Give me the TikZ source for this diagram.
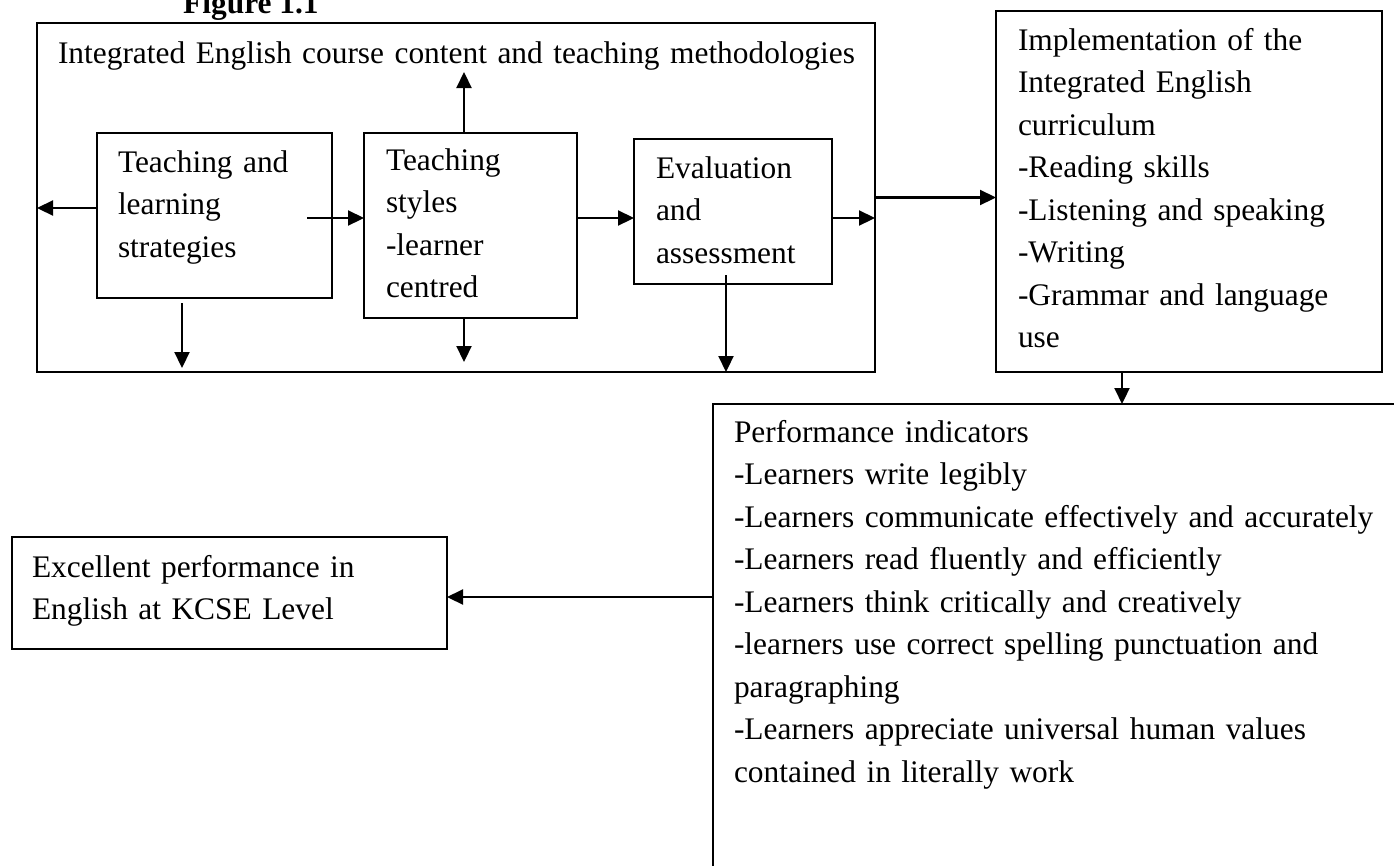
\documentclass[tikz,border=0pt]{standalone}
\usepackage{fontspec}
\setmainfont{Liberation Serif}
\usetikzlibrary{arrows.meta}
\begin{document}
\begin{tikzpicture}[x=1pt,y=-1pt,
  box/.style={draw, line width=1.6pt, rectangle, inner sep=0pt, outer sep=0pt, anchor=north west},
  txt/.style={anchor=base west, inner sep=0pt, outer sep=0pt, align=left, text width=1000pt,
    font=\fontsize{31.4}{42.5}\selectfont},
  arr/.style={line width=2.2pt, -{Triangle[length=16pt,width=15pt]}}]
\useasboundingbox (0,0) rectangle (1394,865);
\clip (0,0) rectangle (1394,865);
% title
\node[anchor=base west, inner sep=0pt, font=\fontsize{31.4}{38}\selectfont\bfseries] (title) at (183,13) {Figure 1.1};
% boxes
\node[box, minimum width=838pt, minimum height=349pt] (outer) at (37,23) {};
\node[box, minimum width=235pt, minimum height=165pt] (A) at (97,133) {};
\node[box, minimum width=213pt, minimum height=185pt] (B) at (364,133) {};
\node[box, minimum width=198pt, minimum height=145pt] (C) at (634,139) {};
\node[box, minimum width=386pt, minimum height=361pt] (impl) at (996,11) {};
\node[box, minimum width=707pt, minimum height=496pt] (perf) at (713,404) {};
\node[box, minimum width=435pt, minimum height=112pt] (exc) at (12,537) {};
% texts
\node[txt] (outertxt) at (58,63) {Integrated English course content and teaching methodologies};
\node[txt] (Atxt) at (118,172) {Teaching and\\learning\\strategies};
\node[txt] (Btxt) at (386,170) {Teaching\\styles\\-learner\\centred};
\node[txt] (Ctxt) at (656,178) {Evaluation\\and\\assessment};
\node[txt] (impltxt) at (1018,50) {Implementation of the\\Integrated English\\curriculum\\-Reading skills\\-Listening and speaking\\-Writing\\-Grammar and language\\use};
\node[txt] (perftxt) at (734,442) {Performance indicators\\-Learners write legibly\\-Learners communicate effectively and accurately\\-Learners read fluently and efficiently\\-Learners think critically and creatively\\-learners use correct spelling punctuation and\\paragraphing\\-Learners appreciate universal human values\\contained in literally work};
\node[txt] (exctxt) at (32,577) {Excellent performance in\\English at KCSE Level};
% connectors
\draw[arr] ([yshift=7.5pt]A.west) coordinate (a1) -- (outer.west |- a1);
\draw[arr] ([xshift=-25pt,yshift=-2.5pt]A.east) -- ([yshift=7.5pt]B.west);
\draw[arr] ([xshift=-6.5pt]B.north) -- ++(0,-61);
\draw[arr] ([xshift=-6.5pt]B.south) -- ++(0,44);
\draw[arr] ([xshift=-32.5pt,yshift=-5pt]A.south) -- ++(0,65);
\draw[arr] ([yshift=7.5pt]B.east) -- ([yshift=-6.5pt]C.west);
\draw[arr] ([yshift=-6.5pt]C.east) coordinate (c1) -- (outer.east |- c1);
\draw[arr] ([xshift=-7pt,yshift=9pt]C.south) coordinate (c2) -- (c2 |- outer.south);
\draw[arr] (outer.east) -- (outer.east -| impl.west);
\draw[arr] ([xshift=-67pt]impl.south) coordinate (i1) -- (i1 |- perf.north);
\draw[arr] ([yshift=-4pt]exc.east -| perf.west) -- ([yshift=-4pt]exc.east);
\end{tikzpicture}
\end{document}
